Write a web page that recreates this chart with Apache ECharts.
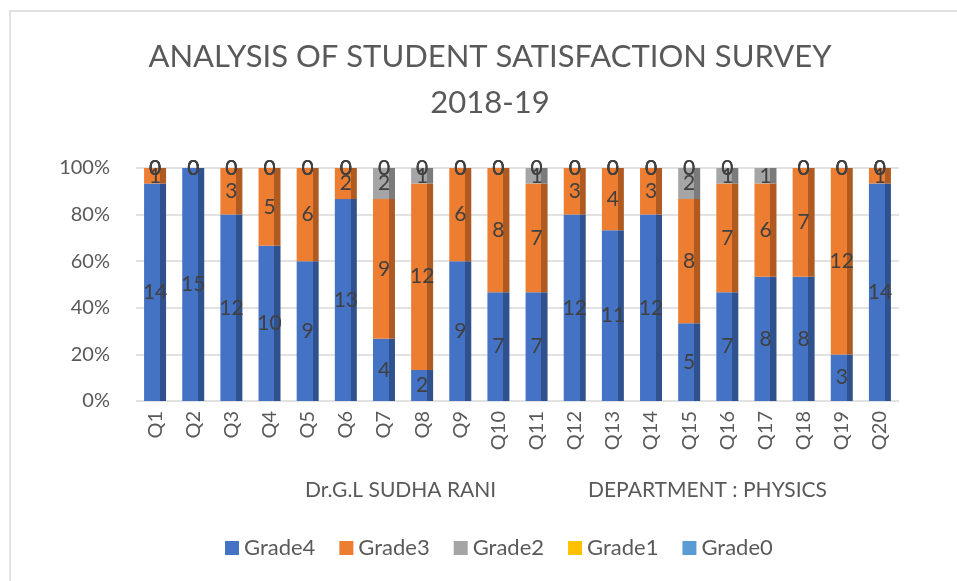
<!DOCTYPE html>
<html>
<head>
<meta charset="utf-8">
<script src="https://cdn.jsdelivr.net/npm/echarts@6/dist/echarts.min.js"></script>
<style>
  html, body { margin: 0; padding: 0; background: #fff; }
  #chart { width: 957px; height: 581px; }
</style>
</head>
<body>
<div id="chart"></div>
<script>
const questions = ['Q1', 'Q2', 'Q3', 'Q4', 'Q5', 'Q6', 'Q7', 'Q8', 'Q9', 'Q10',
  'Q11', 'Q12', 'Q13', 'Q14', 'Q15', 'Q16', 'Q17', 'Q18', 'Q19', 'Q20'];
const grade4 = [14, 15, 12, 10, 9, 13, 4, 2, 9, 7, 7, 12, 11, 12, 5, 7, 8, 8, 3, 14];
const grade3 = [1, 0, 3, 5, 6, 2, 9, 12, 6, 8, 7, 3, 4, 3, 8, 7, 6, 7, 12, 1];
const grade2 = [0, 0, 0, 0, 0, 0, 2, 1, 0, 0, 1, 0, 0, 0, 2, 1, 1, 0, 0, 0];
const grade1 = [0, 0, 0, 0, 0, 0, 0, 0, 0, 0, 0, 0, 0, 0, 0, 0, 0, 0, 0, 0];
const grade0 = [0, 0, 0, 0, 0, 0, 0, 0, 0, 0, 0, 0, 0, 0, 0, 0, 0, 0, 0, 0];
const yTicks = ['0%', '20%', '40%', '60%', '80%', '100%'];

const font = 'Lato, "Open Sans", sans-serif';
const totals = questions.map((q, i) => grade4[i] + grade3[i] + grade2[i] + grade1[i] + grade0[i]);

// front face + darker side face, fakes the 3D look of the original
function shade(front, side) {
  return {
    type: 'linear', x: 0, y: 0, x2: 1, y2: 0,
    colorStops: [
      { offset: 0, color: front },
      { offset: 0.72, color: front },
      { offset: 0.72, color: side },
      { offset: 1, color: side }
    ]
  };
}

function makeSeries(name, counts, front, side) {
  return {
    name: name,
    type: 'bar',
    stack: 'all',
    barWidth: 22,
    itemStyle: { color: shade(front, side) },
    label: {
      show: true,
      position: 'inside',
      color: '#404040',
      fontSize: 21,
      fontFamily: font,
      formatter: p => String(counts[p.dataIndex])
    },
    data: counts.map((c, i) => c / totals[i] * 100)
  };
}

const chart = echarts.init(document.getElementById('chart'));
chart.setOption({
  animation: false,
  legend: {
    bottom: 17,
    left: 220,
    itemWidth: 14,
    itemHeight: 14,
    itemGap: 24,
    icon: 'rect',
    textStyle: { color: '#595959', fontSize: 22, fontFamily: font },
    data: [
      { name: 'Grade4', itemStyle: { color: '#4472C4' } },
      { name: 'Grade3', itemStyle: { color: '#ED7D31' } },
      { name: 'Grade2', itemStyle: { color: '#A5A5A5' } },
      { name: 'Grade1', itemStyle: { color: '#FFC000' } },
      { name: 'Grade0', itemStyle: { color: '#5B9BD5' } }
    ]
  },
  grid: { left: 136, right: 58, top: 168, bottom: 180 },
  xAxis: {
    type: 'category',
    data: questions,
    axisLine: { show: false },
    axisTick: { show: false },
    axisLabel: {
      rotate: 90,
      interval: 0,
      margin: 10,
      color: '#595959',
      fontSize: 20,
      fontFamily: font
    }
  },
  yAxis: {
    type: 'value',
    min: 0,
    max: 100,
    interval: 20,
    axisLine: { show: false },
    axisTick: { show: false },
    axisLabel: {
      margin: 26,
      color: '#595959',
      fontSize: 20,
      fontFamily: font,
      formatter: v => yTicks[Math.round(v / 20)]
    },
    splitLine: { lineStyle: { color: '#D9D9D9', width: 1.5 } }
  },
  graphic: [
    {
      type: 'rect',
      shape: { x: 10, y: 11, width: 1000, height: 700 },
      style: { fill: 'none', stroke: '#D9D9D9', lineWidth: 1.5 },
      silent: true
    },
    {
      type: 'text',
      x: 490,
      y: 34,
      style: {
        text: 'ANALYSIS OF STUDENT SATISFACTION SURVEY\n2018-19',
        fill: '#595959',
        font: '31px ' + font,
        lineHeight: 46,
        align: 'center'
      }
    },
    {
      type: 'text',
      left: 305,
      top: 480,
      style: { text: 'Dr.G.L SUDHA RANI', fill: '#595959', font: '21px ' + font }
    },
    {
      type: 'text',
      left: 588,
      top: 480,
      style: { text: 'DEPARTMENT : PHYSICS', fill: '#595959', font: '21px ' + font }
    }
  ],
  series: [
    makeSeries('Grade4', grade4, '#4472C4', '#2F528F'),
    makeSeries('Grade3', grade3, '#ED7D31', '#AE5A21'),
    makeSeries('Grade2', grade2, '#A5A5A5', '#7B7B7B'),
    makeSeries('Grade1', grade1, '#FFC000', '#BF9000'),
    makeSeries('Grade0', grade0, '#5B9BD5', '#41719C')
  ]
});
</script>
</body>
</html>
